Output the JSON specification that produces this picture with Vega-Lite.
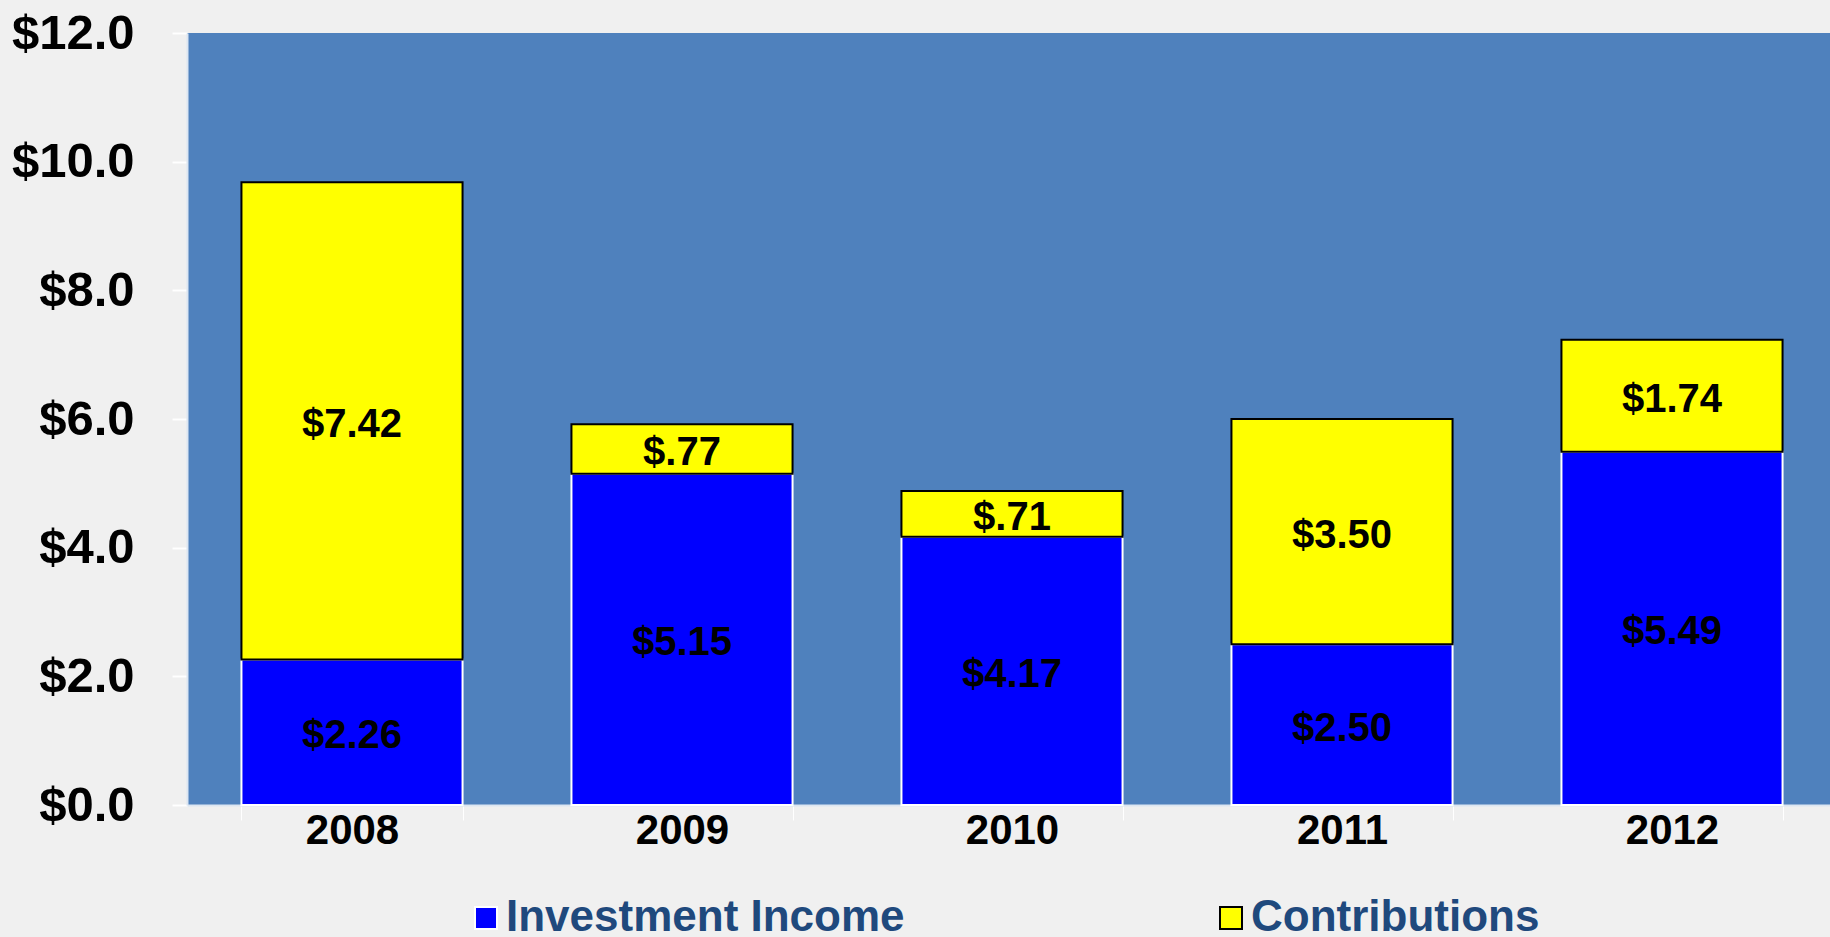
{
  "$schema": "https://vega.github.io/schema/vega-lite/v6.json",
  "width": 1650,
  "height": 772,
  "autosize": {"type": "none"},
  "padding": {"left": 187, "top": 33, "right": 0, "bottom": 132},
  "background": "#f0f0f0",
  "config": {
    "view": {"fill": "#4F81BD", "stroke": null},
    "font": "Liberation Sans"
  },
  "data": {
    "values": [
      {"year": "2008", "series": "Investment Income", "value": 2.26, "label": "$2.26"},
      {"year": "2008", "series": "Contributions", "value": 7.42, "label": "$7.42"},
      {"year": "2009", "series": "Investment Income", "value": 5.15, "label": "$5.15"},
      {"year": "2009", "series": "Contributions", "value": 0.77, "label": "$.77"},
      {"year": "2010", "series": "Investment Income", "value": 4.17, "label": "$4.17"},
      {"year": "2010", "series": "Contributions", "value": 0.71, "label": "$.71"},
      {"year": "2011", "series": "Investment Income", "value": 2.50, "label": "$2.50"},
      {"year": "2011", "series": "Contributions", "value": 3.50, "label": "$3.50"},
      {"year": "2012", "series": "Investment Income", "value": 5.49, "label": "$5.49"},
      {"year": "2012", "series": "Contributions", "value": 1.74, "label": "$1.74"}
    ]
  },
  "encoding": {
    "x": {
      "field": "year",
      "type": "nominal",
      "scale": {"paddingInner": 0.33, "paddingOuter": 0.165},
      "axis": {
        "title": null,
        "labelAngle": 0,
        "labelFontSize": 42,
        "labelFontWeight": "bold",
        "labelColor": "#000000",
        "tickBand": "extent",
        "tickColor": "#ffffff",
        "tickSize": 15,
        "domainColor": "#dce6f2",
        "domainWidth": 2,
        "labelPadding": -10
      }
    }
  },
  "layer": [
    {
      "mark": {"type": "bar", "strokeWidth": 2},
      "encoding": {
        "y": {
          "field": "value",
          "type": "quantitative",
          "stack": "zero",
          "scale": {"domain": [0, 12], "nice": false},
          "axis": {
            "title": null,
            "values": [0, 2, 4, 6, 8, 10, 12],
            "format": "$.1f",
            "labelFontSize": 49,
            "labelFontWeight": "bold",
            "labelColor": "#000000",
            "tickColor": "#ffffff",
            "tickSize": 15,
            "tickWidth": 2,
            "domainColor": "#dce6f2",
            "domainWidth": 2,
            "grid": false,
            "labelPadding": 38
          }
        },
        "fill": {
          "field": "series",
          "type": "nominal",
          "scale": {"domain": ["Investment Income", "Contributions"], "range": ["#0000FF", "#FFFF00"]},
          "legend": {
            "title": null,
            "orient": "none",
            "legendX": 277,
            "legendY": 863,
            "direction": "horizontal",
            "symbolType": "square",
            "symbolSize": 484,
            "symbolStrokeWidth": 2,
            "labelFontSize": 44,
            "labelFontWeight": "bold",
            "labelColor": "#1F497D",
            "labelLimit": 0,
            "labelOffset": -2,
            "columnPadding": 304,
            "padding": 0
          }
        },
        "stroke": {
          "field": "series",
          "type": "nominal",
          "scale": {"domain": ["Investment Income", "Contributions"], "range": ["#FFFFFF", "#000000"]},
          "legend": {
            "title": null,
            "orient": "none",
            "legendX": 277,
            "legendY": 863,
            "direction": "horizontal",
            "symbolType": "square",
            "symbolSize": 484,
            "symbolStrokeWidth": 2,
            "labelFontSize": 44,
            "labelFontWeight": "bold",
            "labelColor": "#1F497D",
            "labelLimit": 0,
            "labelOffset": -2,
            "columnPadding": 304,
            "padding": 0
          }
        },
        "order": {"field": "series", "sort": "descending"}
      }
    },
    {
      "transform": [
        {"stack": "value", "groupby": ["year"], "sort": [{"field": "series", "order": "descending"}], "as": ["v0", "v1"]},
        {"fold": ["v0", "v1"], "as": ["k", "pos"]}
      ],
      "mark": {"type": "text", "fontSize": 40, "fontWeight": "bold", "color": "#000000", "dy": 4},
      "encoding": {
        "y": {"aggregate": "mean", "field": "pos", "type": "quantitative"},
        "detail": {"field": "series", "type": "nominal"},
        "text": {"field": "label", "type": "nominal"}
      }
    }
  ]
}
